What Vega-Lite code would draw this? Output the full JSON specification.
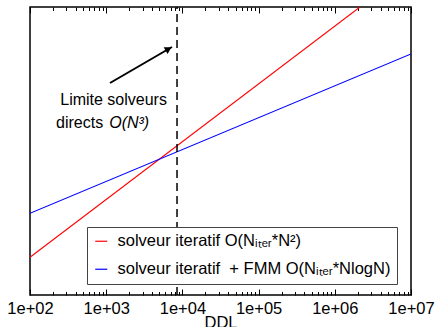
{
  "$schema": "https://vega.github.io/schema/vega-lite/v6.json",
  "width": 381,
  "height": 288,
  "autosize": {"type": "none"},
  "padding": {"left": 30, "top": 7, "right": 25, "bottom": 32},
  "config": {
    "view": {"stroke": "black", "strokeWidth": 1.5},
    "font": "Liberation Sans",
    "axis": {"labelFont": "Liberation Sans", "titleFont": "Liberation Sans", "labelColor": "black", "titleColor": "black", "tickColor": "black", "domain": false, "grid": false, "titleFontWeight": "normal"}
  },
  "datasets": {
    "lines": [
      {"ddl": 100, "temps": 37.7, "serie": "solveur iteratif O(Nᵢₜₑᵣ*N²)"},
      {"ddl": 2140000, "temps": 288, "serie": "solveur iteratif O(Nᵢₜₑᵣ*N²)"},
      {"ddl": 100, "temps": 81.7, "serie": "solveur iteratif\u00a0 + FMM O(Nᵢₜₑᵣ*NlogN)"},
      {"ddl": 10000000, "temps": 241, "serie": "solveur iteratif\u00a0 + FMM O(Nᵢₜₑᵣ*NlogN)"}
    ],
    "limite": [{"ddl": 8500, "y0": 0, "y1": 288}],
    "notes": [
      {"ddl": 1250, "temps": 195, "txt": "Limite solveurs"}
    ],
    "notes2": [
      {"ddl": 1000, "temps": 172, "a": "directs", "b": "O(N³)"}
    ],
    "fleche": [{"x": 1122, "y": 212, "x2": 7300, "y2": 248}],
    "pointe": [{"x": 6580, "y": 246}]
  },
  "layer": [
    {
      "data": {"name": "lines"},
      "mark": {"type": "line", "strokeWidth": 1.1, "clip": true},
      "encoding": {
        "x": {"field": "ddl", "type": "quantitative",
          "scale": {"type": "log", "domain": [100, 10000000], "nice": false},
          "axis": {"orient": "bottom", "title": "DDL", "values": [100, 1000, 10000, 100000, 1000000, 10000000], "format": ".0e", "labelExpr": "replace(format(datum.value, '.0e'), /e\\+(\\d)$/, 'e+0$1')", "tickSize": -6, "labelPadding": 11, "labelFontSize": 16.5, "titleFontSize": 16.5, "titlePadding": -2, "labelFlush": false, "labelOverlap": false}},
        "y": {"field": "temps", "type": "quantitative",
          "scale": {"domain": [0, 288], "nice": false, "zero": false},
          "axis": {"title": "Temps CPU", "labels": false, "ticks": false, "titleFontSize": 16.5, "titlePadding": 4}},
        "color": {"field": "serie", "type": "nominal",
          "scale": {"domain": ["solveur iteratif O(Nᵢₜₑᵣ*N²)", "solveur iteratif\u00a0 + FMM O(Nᵢₜₑᵣ*NlogN)"], "range": ["#ff0000", "#0000ff"]},
          "legend": {"orient": "none", "legendX": 57, "legendY": 220, "title": null, "strokeColor": "#444", "fillColor": "white", "padding": 6, "labelFontSize": 16.5, "labelFont": "Liberation Sans", "labelColor": "black", "symbolType": "stroke", "symbolSize": 144, "symbolStrokeWidth": 1.2, "rowPadding": 11, "labelLimit": 500, "labelOffset": 8, "cornerRadius": 0}}
      }
    },
    {
      "data": {"name": "limite"},
      "mark": {"type": "rule", "color": "black", "strokeDash": [8, 5], "strokeWidth": 1.5},
      "encoding": {
        "x": {"field": "ddl", "type": "quantitative",
          "axis": {"orient": "bottom", "title": null, "labels": false, "tickSize": -3.5, "values": [200, 300, 400, 500, 600, 700, 800, 900, 2000, 3000, 4000, 5000, 6000, 7000, 8000, 9000, 20000, 30000, 40000, 50000, 60000, 70000, 80000, 90000, 200000, 300000, 400000, 500000, 600000, 700000, 800000, 900000, 2000000, 3000000, 4000000, 5000000, 6000000, 7000000, 8000000, 9000000]}},
        "y": {"field": "y0", "type": "quantitative", "axis": null},
        "y2": {"field": "y1"}
      }
    },
    {
      "data": {"name": "notes"},
      "mark": {"type": "text", "fontSize": 16, "font": "Liberation Sans", "color": "black", "align": "center", "baseline": "middle"},
      "encoding": {
        "x": {"field": "ddl", "type": "quantitative",
          "axis": {"orient": "top", "title": null, "labels": false, "tickSize": -6, "values": [100, 1000, 10000, 100000, 1000000, 10000000]}},
        "y": {"field": "temps", "type": "quantitative", "axis": null},
        "text": {"field": "txt"}
      }
    },
    {
      "data": {"name": "notes2"},
      "mark": {"type": "text", "fontSize": 16, "font": "Liberation Sans", "color": "black", "align": "right", "baseline": "middle", "dx": -3},
      "encoding": {
        "x": {"field": "ddl", "type": "quantitative",
          "axis": {"orient": "top", "title": null, "labels": false, "tickSize": -3.5, "values": [200, 300, 400, 500, 600, 700, 800, 900, 2000, 3000, 4000, 5000, 6000, 7000, 8000, 9000, 20000, 30000, 40000, 50000, 60000, 70000, 80000, 90000, 200000, 300000, 400000, 500000, 600000, 700000, 800000, 900000, 2000000, 3000000, 4000000, 5000000, 6000000, 7000000, 8000000, 9000000]}},
        "y": {"field": "temps", "type": "quantitative", "axis": null},
        "text": {"field": "a"}
      }
    },
    {
      "data": {"name": "notes2"},
      "mark": {"type": "text", "fontSize": 16, "font": "Liberation Sans", "fontStyle": "italic", "color": "black", "align": "left", "baseline": "middle", "dx": 3},
      "encoding": {
        "x": {"field": "ddl", "type": "quantitative", "axis": null},
        "y": {"field": "temps", "type": "quantitative", "axis": null},
        "text": {"field": "b"}
      }
    },
    {
      "data": {"name": "fleche"},
      "mark": {"type": "rule", "color": "black", "strokeWidth": 2},
      "encoding": {
        "x": {"field": "x", "type": "quantitative", "axis": null},
        "y": {"field": "y", "type": "quantitative", "axis": null},
        "x2": {"field": "x2"},
        "y2": {"field": "y2"}
      }
    },
    {
      "data": {"name": "pointe"},
      "mark": {"type": "point", "shape": "triangle-up", "filled": true, "color": "black", "opacity": 1, "size": 60, "angle": 60},
      "encoding": {
        "x": {"field": "x", "type": "quantitative", "axis": null},
        "y": {"field": "y", "type": "quantitative", "axis": null}
      }
    }
  ],
  "resolve": {"axis": {"x": "independent"}}
}
